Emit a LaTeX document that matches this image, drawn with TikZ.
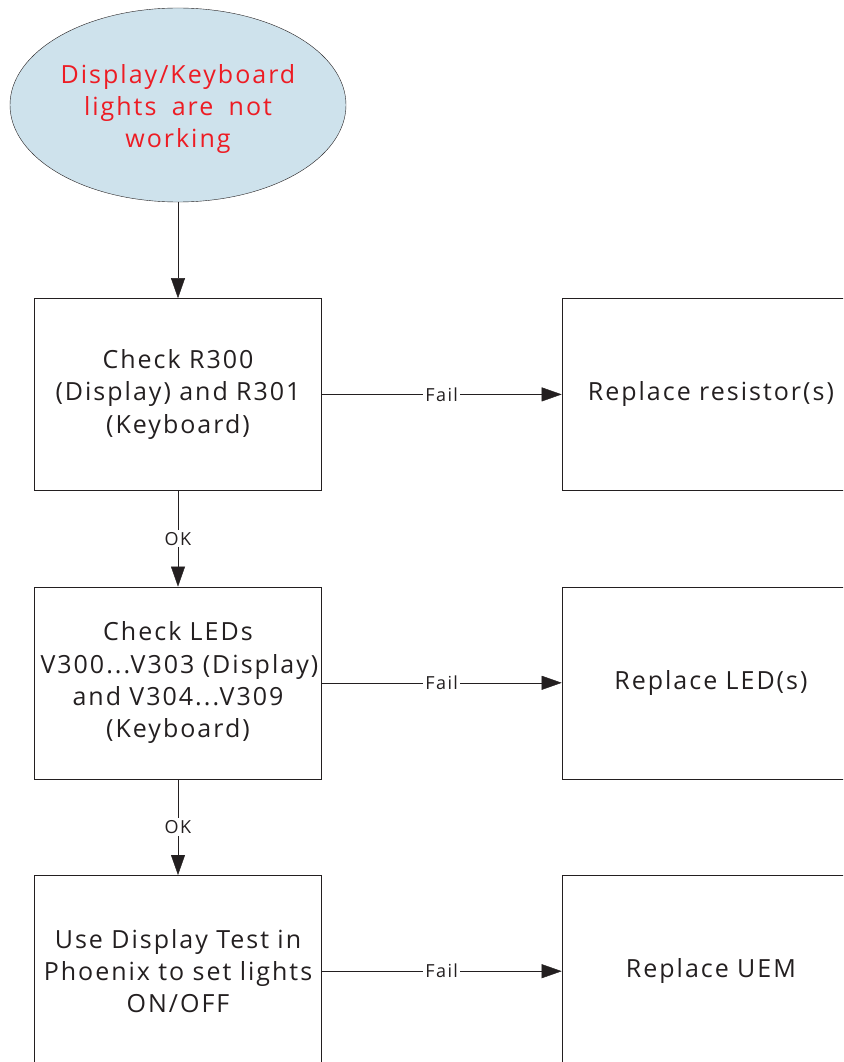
\documentclass[tikz,border=0pt]{standalone}
\usepackage{fontspec}
\setmainfont[LetterSpace=8, WordSpace=1.8]{Open Sans}
\usetikzlibrary{shapes.geometric, arrows.meta, positioning}
\definecolor{startblue}{RGB}{206,226,236}
\definecolor{startred}{RGB}{237,28,36}
\definecolor{inkgray}{RGB}{35,31,32}
\tikzstyle{startstop} = [ellipse, minimum width=336pt, minimum height=194pt, inner sep=0pt, draw=inkgray, fill=startblue, text=startred, align=center]
\tikzstyle{process} = [rectangle, minimum width=287pt, minimum height=192pt, inner sep=6pt, text width=275pt, draw=inkgray, text=inkgray, align=center]
\tikzstyle{replace} = [rectangle, minimum width=298pt, minimum height=192pt, inner sep=6pt, text width=286pt, draw=inkgray, text=inkgray, align=center]
\tikzstyle{arrow} = [draw=inkgray, -{Triangle[length=20pt,width=14pt]}]
\tikzset{
    descr/.style={
        fill=white,
        inner sep=2pt,
        text=inkgray,
        font=\fontsize{18}{22}\selectfont
    }
}

\begin{document}
\begin{tikzpicture}[x=1pt, y=1pt, font=\fontsize{25}{32.3}\selectfont]
	\clip (0,0) rectangle (843,-1062);
	\node (lightsOff) [startstop] at (178,-105) {\rule{0pt}{27pt}Display/Keyboard\\lights are not\\working};
	\node (checkRes) [process, below = 96pt of lightsOff] {Check R300\\(Display) and R301\\(Keyboard)};
	\node (checkLeds) [process, below = 96pt of checkRes] {Check LEDs\\V300...V303 (Display)\\and V304...V309\\(Keyboard)};
	\node (displayTest) [process, below = 96pt of checkLeds] {Use Display Test in\\Phoenix to set lights\\ON/OFF};
	\node (replaceRes) [replace, right = 240pt of checkRes] {Replace resistor(s)};
	\node (replaceLeds) [replace, right = 240pt of checkLeds] {Replace LED(s)};
	\node (replaceUem) [replace, right = 240pt of displayTest] {Replace UEM};
	\draw [arrow] (lightsOff) -- (checkRes);
	\draw [arrow] (checkRes) -- node [descr] {OK} (checkLeds);
	\draw [arrow] (checkLeds) -- node [descr] {OK} (displayTest);
	\draw [arrow] (checkRes) -- node [descr] {Fail} (replaceRes);
	\draw [arrow] (checkLeds) -- node [descr] {Fail} (replaceLeds);
	\draw [arrow] (displayTest) -- node [descr] {Fail} (replaceUem);
\end{tikzpicture}
\end{document}
